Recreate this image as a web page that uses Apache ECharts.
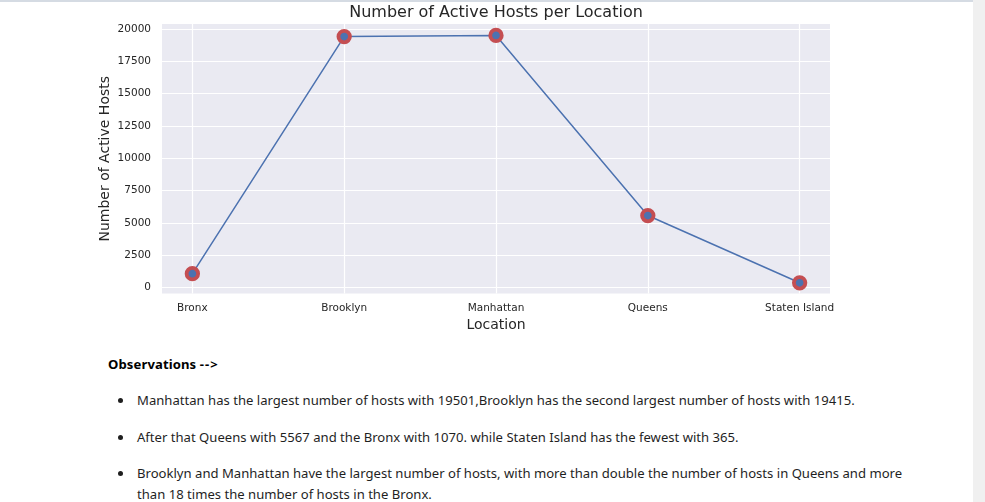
<!DOCTYPE html>
<html>
<head>
<meta charset="utf-8">
<script src="https://cdn.jsdelivr.net/npm/echarts@6/dist/echarts.min.js"></script>
<style>
  html, body { margin: 0; padding: 0; background: #fff; width: 985px; height: 502px; overflow: hidden; }
  #topline { position: absolute; left: 0; top: 0; width: 973px; height: 2px; background: #d5dbe3; }
  #scroll { position: absolute; left: 973px; top: 0; width: 12px; height: 502px; background: #f0f0f0; }
  #chart { position: absolute; left: 0; top: 0; width: 972px; height: 340px; }
  .txt { position: absolute; font-family: "Noto Sans", "Open Sans", sans-serif; font-size: 13.1px; color: #1f1f1f; white-space: nowrap; }
  .hd { font-weight: bold; color: #000; letter-spacing: 0.1px; }
  .bul { position: absolute; width: 5px; height: 5px; border-radius: 50%; background: #1f1f1f; }
</style>
</head>
<body>
<div id="topline"></div>
<div id="scroll"></div>
<div id="chart"></div>
<div class="txt hd" style="left:108px; top:355px;">Observations -<span style="margin-left:1px">-</span><span style="margin-left:1px">&gt;</span></div>
<div class="bul" style="left:118px; top:398px;"></div>
<div class="txt" style="left:137px; top:391px;">Manhattan has the largest number of hosts with 19501,Brooklyn has the second largest number of hosts with 19415.</div>
<div class="bul" style="left:118px; top:435px;"></div>
<div class="txt" style="left:137px; top:428px;">After that Queens with 5567 and the Bronx with 1070. while Staten Island has the fewest with 365.</div>
<div class="bul" style="left:118px; top:471px;"></div>
<div class="txt" style="left:137px; top:464px;">Brooklyn and Manhattan have the largest number of hosts, with more than double the number of hosts in Queens and more</div>
<div class="txt" style="left:137px; top:485px;">than 18 times the number of hosts in the Bronx.</div>
<script>
const locations = ['Bronx', 'Brooklyn', 'Manhattan', 'Queens', 'Staten Island'];
const activeHosts = [1070, 19415, 19501, 5567, 365];
const yTicks = [0, 2500, 5000, 7500, 10000, 12500, 15000, 17500, 20000];
const xTicks = [0, 1, 2, 3, 4];

const chart = echarts.init(document.getElementById('chart'), null, { renderer: 'canvas' });
const font = 'DejaVu Sans';
chart.setOption({
  animation: false,
  grid: {
    left: 162, top: 24, width: 668, height: 269.5,
    show: true, backgroundColor: '#EAEAF2', borderWidth: 0
  },
  graphic: [{
    type: 'text', x: 496, y: 12.5,
    style: { text: 'Number of Active Hosts per Location', fontFamily: font, fontSize: 16, fill: '#262626', align: 'center', verticalAlign: 'middle' }
  }],
  xAxis: {
    type: 'value', min: -0.2, max: 4.2,
    name: 'Location', nameLocation: 'middle', nameGap: 22,
    nameTextStyle: { fontFamily: font, fontSize: 14, color: '#262626' },
    axisLine: { show: false },
    axisTick: { show: false, customValues: xTicks },
    axisLabel: { customValues: xTicks, formatter: v => locations[Math.round(v)] || '', fontFamily: font, fontSize: 10.5, color: '#262626', margin: 9 },
    splitLine: { show: true, lineStyle: { color: '#ffffff', width: 1.2 } }
  },
  yAxis: {
    type: 'value', min: -464, max: 20387,
    name: 'Number of Active Hosts', nameLocation: 'middle', nameRotate: 90, nameGap: 50,
    nameMoveOverlap: false,
    nameTextStyle: { fontFamily: font, fontSize: 14, color: '#262626' },
    axisLine: { show: false },
    axisTick: { show: false, customValues: yTicks },
    axisLabel: { customValues: yTicks, formatter: v => String(v), fontFamily: font, fontSize: 10.5, color: '#262626', margin: 11 },
    splitLine: { show: true, lineStyle: { color: '#ffffff', width: 1.2 } }
  },
  series: [{
    type: 'line',
    data: activeHosts.map((v, i) => [i, v]),
    symbol: 'circle', symbolSize: 11.5,
    lineStyle: { color: '#4C72B0', width: 1.5 },
    itemStyle: { color: '#4C72B0', borderColor: '#C44E52', borderWidth: 3.8 },
    z: 3
  }]
});
</script>
</body>
</html>
